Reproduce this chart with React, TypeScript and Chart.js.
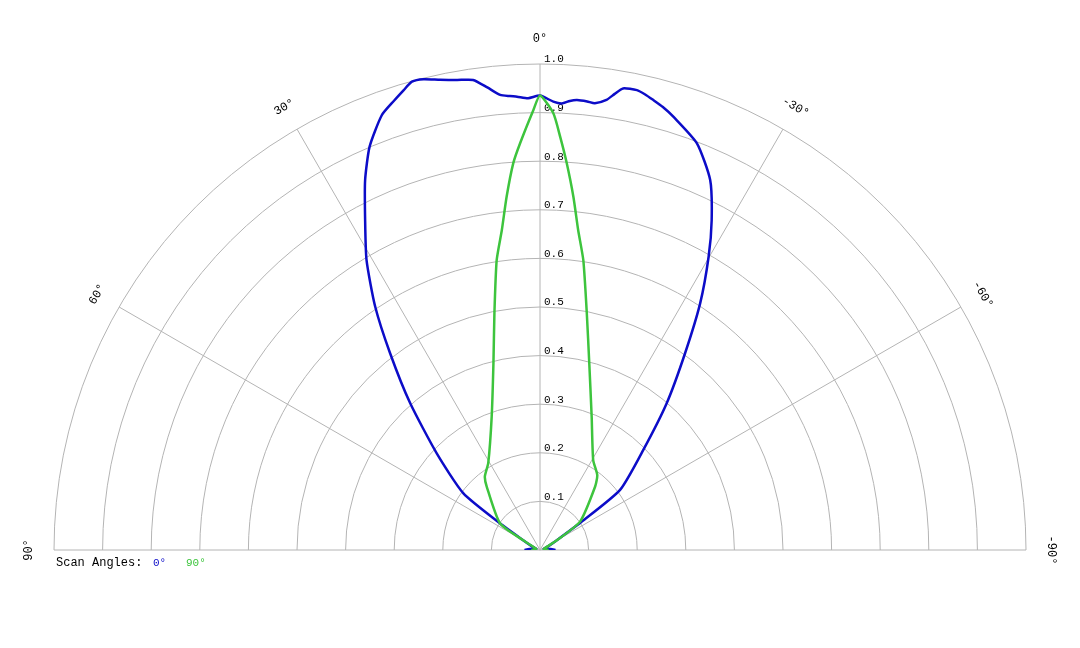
import { useEffect, useRef } from "react"
import { Chart, registerables } from "chart.js"

Chart.register(...registerables)

// scan angle 0° (blue): angle in degrees (positive to the left), relative intensity
const blueAngles = [
  90, 85, 80, 75, 70, 65, 60, 56.3, 53.5, 46.9, 41.5, 37.3, 34.1, 30.9, 27.9, 25.3, 22.9, 20.0,
  18.0, 16.5, 15.3, 13.9, 12.0, 10.0, 8.1, 6.5, 5.0, 3.8, 2.9, 1.5, 0, -1.7, -2.8, -3.8, -4.7, -6.0,
  -7.0, -8.4, -9.3, -10.2, -11.9, -13.0, -14.1, -15.5, -17.1, -21.1, -24.7, -27.5, -29.9, -33.0,
  -36.4, -40.8, -45.9, -53.1, -55.8, -60, -65, -70, -75, -80, -85, -90,
]
const blueValues = [
  0.032, 0.022, 0.012, 0.008, 0.01, 0.02, 0.04, 0.099, 0.196, 0.291, 0.403, 0.509, 0.605, 0.695,
  0.769, 0.842, 0.901, 0.952, 0.972, 0.987, 0.999, 0.998, 0.989, 0.982, 0.977, 0.958, 0.94,
  0.936, 0.934, 0.93, 0.935, 0.923, 0.92, 0.926, 0.929, 0.928, 0.926, 0.936, 0.951, 0.965, 0.967,
  0.962, 0.955, 0.946, 0.933, 0.897, 0.838, 0.765, 0.696, 0.605, 0.503, 0.399, 0.296, 0.206, 0.104,
  0.04, 0.02, 0.01, 0.008, 0.012, 0.022, 0.032,
]

// scan angle 90° (green)
const greenAngles = [
  90, 80, 70, 60, 56.3, 40.1, 36.9, 30.8, 19.9, 14.0, 10.9, 8.5, 6.8, 5.4, 3.95, 2.8, 0.87, 0, -1.75,
  -2.8, -3.95, -5.4, -6.8, -8.5, -11.2, -14.8, -21.2, -30.6, -37.4, -41.0, -54.7, -60, -70, -80, -90,
]
const greenValues = [
  0.018, 0.008, 0.01, 0.04, 0.099, 0.17, 0.189, 0.208, 0.292, 0.396, 0.496, 0.603, 0.663, 0.73, 0.798,
  0.838, 0.905, 0.935, 0.899, 0.851, 0.798, 0.73, 0.663, 0.603, 0.496, 0.397, 0.294, 0.215, 0.194,
  0.173, 0.101, 0.04, 0.01, 0.008, 0.018,
]

const ringValues = [0.1, 0.2, 0.3, 0.4, 0.5, 0.6, 0.7, 0.8, 0.9, 1.0]
const ringLabels = ["0.1", "0.2", "0.3", "0.4", "0.5", "0.6", "0.7", "0.8", "0.9", "1.0"]
const spokeAngles = [60, 30, 0, -30, -60]
const angleLabelAngles = [90, 60, 30, 0, -30, -60, -90]
const angleLabels = ["90°", "60°", "30°", "0°", "-30°", "-60°", "-90°"]

const BLUE = "#0c0cc8"
const GREEN = "#3dc43d"
const GRID = "#b4b4b4"
const FONT = '"Courier New", "Liberation Mono", monospace'

const rad = (deg: number) => (deg * Math.PI) / 180

function toXY(angles: number[], values: number[]) {
  return angles.map((a, i) => ({
    x: -values[i] * Math.sin(rad(a)),
    y: values[i] * Math.cos(rad(a)),
  }))
}

const polarGrid = {
  id: "polarGrid",
  beforeDatasetsDraw(chart: Chart) {
    const { ctx } = chart
    const xs = chart.scales.x
    const ys = chart.scales.y
    const cx = xs.getPixelForValue(0)
    const cy = ys.getPixelForValue(0)
    const unit = xs.getPixelForValue(1) - cx

    ctx.save()
    ctx.strokeStyle = GRID
    ctx.lineWidth = 1
    ringValues.forEach((v) => {
      ctx.beginPath()
      ctx.arc(cx, cy, v * unit, Math.PI, 2 * Math.PI)
      ctx.stroke()
    })
    // baseline (±90°)
    ctx.beginPath()
    ctx.moveTo(xs.getPixelForValue(-1), cy)
    ctx.lineTo(xs.getPixelForValue(1), cy)
    ctx.stroke()
    spokeAngles.forEach((a) => {
      ctx.beginPath()
      ctx.moveTo(cx, cy)
      ctx.lineTo(xs.getPixelForValue(-Math.sin(rad(a))), ys.getPixelForValue(Math.cos(rad(a))))
      ctx.stroke()
    })

    ctx.fillStyle = "#000"
    ctx.font = `11px ${FONT}`
    ctx.textAlign = "left"
    ctx.textBaseline = "bottom"
    ringValues.forEach((v, i) => {
      ctx.fillText(ringLabels[i], cx + 4, ys.getPixelForValue(v) + 1)
    })
    ctx.restore()
  },
  afterDraw(chart: Chart) {
    const { ctx } = chart
    const xs = chart.scales.x
    const ys = chart.scales.y
    const cy = ys.getPixelForValue(0)

    ctx.save()
    ctx.fillStyle = "#000"
    ctx.font = `12px ${FONT}`
    ctx.textAlign = "center"
    ctx.textBaseline = "middle"
    angleLabelAngles.forEach((a, i) => {
      const px = xs.getPixelForValue(-1.052 * Math.sin(rad(a)))
      const py = ys.getPixelForValue(1.052 * Math.cos(rad(a)))
      ctx.save()
      ctx.translate(px, py)
      ctx.rotate(-rad(a))
      ctx.fillText(angleLabels[i], 0, 0)
      ctx.restore()
    })

    // legend
    const lx = xs.getPixelForValue(-1) + 2
    const ly = cy + 13
    ctx.textAlign = "left"
    ctx.font = `12px ${FONT}`
    ctx.fillStyle = "#000"
    ctx.fillText("Scan Angles:", lx, ly)
    ctx.font = `11px ${FONT}`
    ctx.fillStyle = BLUE
    ctx.fillText("0°", lx + 97, ly)
    ctx.fillStyle = GREEN
    ctx.fillText("90°", lx + 130, ly)
    ctx.restore()
  },
}

export default function App() {
  const canvasRef = useRef<HTMLCanvasElement>(null)
  const chartRef = useRef<Chart | null>(null)

  useEffect(() => {
    if (!canvasRef.current) return
    if (chartRef.current) chartRef.current.destroy()

    chartRef.current = new Chart(canvasRef.current, {
      type: "scatter",
      data: {
        datasets: [
          {
            label: "0°",
            data: toXY(blueAngles, blueValues),
            showLine: true,
            borderColor: BLUE,
            borderWidth: 2.5,
            pointRadius: 0,
            tension: 0.2,
            order: 1,
          },
          {
            label: "90°",
            data: toXY(greenAngles, greenValues),
            showLine: true,
            borderColor: GREEN,
            borderWidth: 2.5,
            pointRadius: 0,
            tension: 0.2,
            order: 0,
          },
        ],
      },
      options: {
        animation: false,
        responsive: true,
        maintainAspectRatio: false,
        layout: { padding: { left: 54, right: 54, top: 64, bottom: 98 } },
        plugins: {
          legend: { display: false },
          tooltip: { enabled: false },
        },
        scales: {
          x: { type: "linear", min: -1, max: 1, display: false },
          y: { type: "linear", min: 0, max: 1, display: false },
        },
      },
      plugins: [polarGrid],
    })

    return () => {
      if (chartRef.current) {
        chartRef.current.destroy()
        chartRef.current = null
      }
    }
  }, [])

  return (
    <div style={{ position: "fixed", left: 0, top: 0, width: 1080, height: 648, background: "#fff" }}>
      <canvas ref={canvasRef} />
    </div>
  )
}
